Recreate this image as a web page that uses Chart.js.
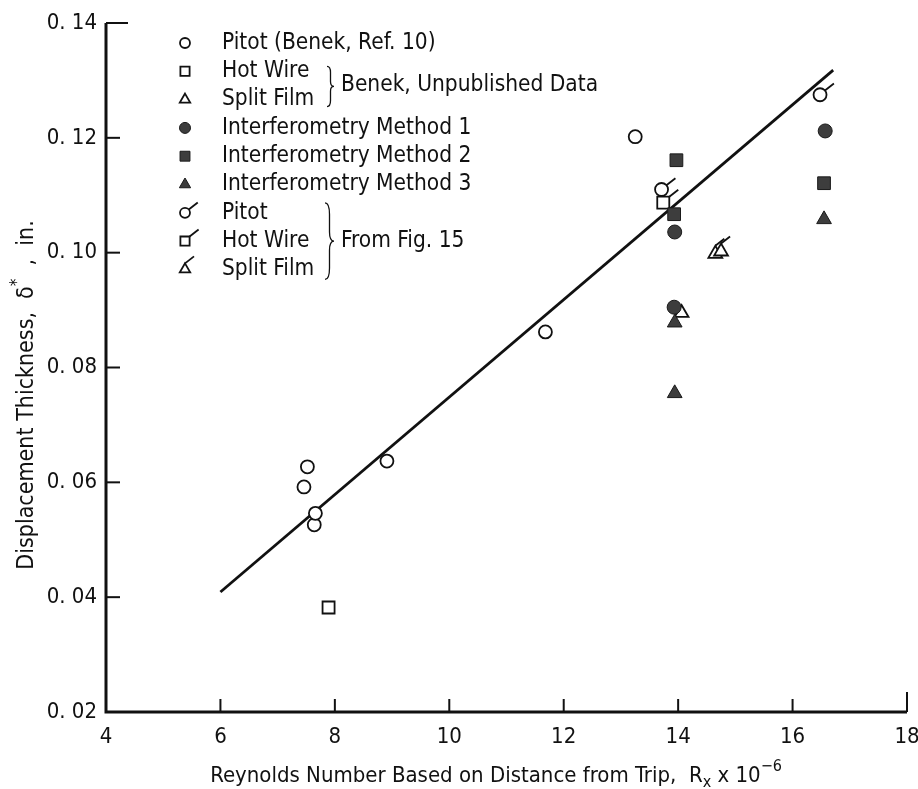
<!DOCTYPE html>
<html>
<head>
<meta charset="utf-8">
<script src="https://cdn.jsdelivr.net/npm/chart.js@4.4.1/dist/chart.umd.min.js"></script>
<style>
  html, body { margin: 0; padding: 0; background: #fff; }
  #wrap { width: 918px; height: 789px; position: relative; }
</style>
</head>
<body>
<div id="wrap"><canvas id="chart"></canvas></div>
<script>
const FONT = '"DejaVu Sans Condensed", "Liberation Sans Narrow", "Noto Sans", sans-serif';

const xTicks = [4, 6, 8, 10, 12, 14, 16, 18];
const yTicks = [0.02, 0.04, 0.06, 0.08, 0.10, 0.12, 0.14];

// Pitot (Benek, Ref. 10)
const pitotRefX = [7.46, 7.52, 7.64, 7.66, 8.91, 11.68, 13.25];
const pitotRefY = [0.0592, 0.0627, 0.0526, 0.0546, 0.0637, 0.0862, 0.1202];
// Benek, unpublished data
const hotWireX = [7.89];
const hotWireY = [0.0382];
const splitFilmX = [14.06];
const splitFilmY = [0.0895];
// interferometry
const interf1X = [13.94, 13.93, 16.57];
const interf1Y = [0.1036, 0.0905, 0.1212];
const interf2X = [13.97, 13.93, 16.55];
const interf2Y = [0.1161, 0.1067, 0.1121];
const interf3X = [13.94, 13.94, 16.55];
const interf3Y = [0.0878, 0.0755, 0.1058];
// from fig. 15 (flagged symbols)
const pitotFigX = [13.71, 16.48];
const pitotFigY = [0.1110, 0.1275];
const hotWireFigX = [13.74];
const hotWireFigY = [0.1087];
const splitFilmFigX = [14.65, 14.75];
const splitFilmFigY = [0.0998, 0.1002];
// fitted line
const fitX = [6.0, 16.71];
const fitY = [0.0409, 0.1318];

const legendLabels = ['Pitot (Benek, Ref. 10)', 'Hot Wire', 'Split Film', 'Interferometry Method 1',
    'Interferometry Method 2', 'Interferometry Method 3', 'Pitot', 'Hot Wire', 'Split Film'];
const braceLabels = ['Benek, Unpublished Data', 'From Fig. 15'];

function pts(xs, ys) {
    return xs.map((x, i) => ({ x: x, y: ys[i] }));
}

const OPEN = { backgroundColor: '#ffffff', borderColor: '#111111', borderWidth: 1.8 };
const FILLED = { backgroundColor: '#3d3d3d', borderColor: '#1a1a1a', borderWidth: 1 };

const datasets = [
    { label: legendLabels[0], data: pts(pitotRefX, pitotRefY), pointStyle: 'circle', pointRadius: 6.5, ...OPEN, order: 5 },
    { label: legendLabels[1], data: pts(hotWireX, hotWireY), pointStyle: 'rect', pointRadius: 8.5, ...OPEN, order: 5 },
    { label: legendLabels[2], data: pts(splitFilmX, splitFilmY), pointStyle: 'triangle', pointRadius: 8, ...OPEN, order: 5 },
    { label: legendLabels[3], data: pts(interf1X, interf1Y), pointStyle: 'circle', pointRadius: 7, ...FILLED, order: 1 },
    { label: legendLabels[4], data: pts(interf2X, interf2Y), pointStyle: 'rect', pointRadius: 9, ...FILLED, order: 1 },
    { label: legendLabels[5], data: pts(interf3X, interf3Y), pointStyle: 'triangle', pointRadius: 8.5, ...FILLED, order: 1 },
    { label: legendLabels[6], data: pts(pitotFigX, pitotFigY), pointStyle: 'circle', pointRadius: 6.5, ...OPEN, flag: true, order: 4 },
    { label: legendLabels[7], data: pts(hotWireFigX, hotWireFigY), pointStyle: 'rect', pointRadius: 8.5, ...OPEN, flag: true, order: 4 },
    { label: legendLabels[8], data: pts(splitFilmFigX, splitFilmFigY), pointStyle: 'triangle', pointRadius: 8, ...OPEN, flag: true, order: 4 },
    { label: 'fit', data: pts(fitX, fitY), showLine: true, borderColor: '#111111', borderWidth: 2.8, pointRadius: 0, order: 10 }
];

// the little tail drawn on the "From Fig. 15" symbols
function drawFlag(ctx, style, x, y, r) {
    let sx, sy;
    if (style === 'circle') {
        sx = x + r * 0.75; sy = y - r * 0.66;
    } else if (style === 'rect') {
        const h = r * Math.SQRT1_2;
        sx = x + h; sy = y - h;
    } else {
        sx = x; sy = y - r;
    }
    ctx.beginPath();
    ctx.moveTo(sx, sy);
    ctx.lineTo(sx + 9, sy - 7);
    ctx.stroke();
}

function drawBrace(ctx, x, yTop, yBot, w) {
    const h = yBot - yTop;
    const ym = (yTop + yBot) / 2;
    ctx.beginPath();
    ctx.moveTo(x, yTop);
    ctx.quadraticCurveTo(x + w * 0.5, yTop, x + w * 0.5, yTop + h * 0.15);
    ctx.lineTo(x + w * 0.5, ym - h * 0.12);
    ctx.quadraticCurveTo(x + w * 0.5, ym, x + w, ym);
    ctx.quadraticCurveTo(x + w * 0.5, ym, x + w * 0.5, ym + h * 0.12);
    ctx.lineTo(x + w * 0.5, yBot - h * 0.15);
    ctx.quadraticCurveTo(x + w * 0.5, yBot, x, yBot);
    ctx.stroke();
}

// runs of [text, size, yOffset]
function runsWidth(ctx, runs) {
    let w = 0;
    runs.forEach(r => { ctx.font = r[1] + 'px ' + FONT; w += ctx.measureText(r[0]).width; });
    return w;
}
function drawRuns(ctx, runs, x, y) {
    runs.forEach(r => {
        ctx.font = r[1] + 'px ' + FONT;
        ctx.fillText(r[0], x, y + r[2]);
        x += ctx.measureText(r[0]).width;
    });
}

const paperPlugin = {
    id: 'paper',
    beforeDatasetsDraw(chart) {
        const { ctx, chartArea: a, scales: { x, y } } = chart;
        ctx.save();
        ctx.strokeStyle = '#111';
        ctx.lineWidth = 3;
        ctx.beginPath();
        ctx.moveTo(a.left, a.top);
        ctx.lineTo(a.left, a.bottom);
        ctx.lineTo(a.right, a.bottom);
        ctx.stroke();
        ctx.lineWidth = 2;
        yTicks.forEach(v => {
            const py = y.getPixelForValue(v);
            const len = v === 0.14 ? 22 : 14;
            ctx.beginPath();
            ctx.moveTo(a.left, py);
            ctx.lineTo(a.left + len, py);
            ctx.stroke();
        });
        xTicks.forEach(v => {
            const px = x.getPixelForValue(v);
            const len = v === 18 ? 20 : 13;
            ctx.beginPath();
            ctx.moveTo(px, a.bottom);
            ctx.lineTo(px, a.bottom - len);
            ctx.stroke();
        });
        ctx.restore();
    },
    afterDatasetsDraw(chart) {
        const ctx = chart.ctx;
        ctx.save();
        ctx.strokeStyle = '#111';
        ctx.lineWidth = 1.8;
        chart.data.datasets.forEach((ds, i) => {
            if (!ds.flag) return;
            chart.getDatasetMeta(i).data.forEach(p => drawFlag(ctx, ds.pointStyle, p.x, p.y, ds.pointRadius));
        });
        ctx.restore();
    },
    afterDraw(chart) {
        const ctx = chart.ctx;
        ctx.save();
        ctx.fillStyle = '#111';
        ctx.strokeStyle = '#111';
        ctx.textBaseline = 'middle';

        // legend
        const symX = 185, textX = 222, y0 = 43, dy = 28.3;
        const legendSize = [5, 6.5, 6, 5.5, 7, 6.5, 5, 6.5, 6];
        chart.data.datasets.slice(0, 9).forEach((ds, i) => {
            const yy = y0 + i * dy;
            ctx.fillStyle = ds.backgroundColor;
            ctx.strokeStyle = ds.borderColor;
            ctx.lineWidth = ds.borderWidth;
            Chart.helpers.drawPoint(ctx, { pointStyle: ds.pointStyle, radius: legendSize[i], borderWidth: ds.borderWidth, rotation: 0 }, symX, yy);
            if (ds.flag) {
                ctx.lineWidth = 1.8;
                drawFlag(ctx, ds.pointStyle, symX, yy, legendSize[i]);
            }
            ctx.fillStyle = '#111';
            ctx.font = '22.5px ' + FONT;
            ctx.textAlign = 'left';
            ctx.fillText(ds.label, textX, yy);
        });
        ctx.lineWidth = 1.3;
        ctx.strokeStyle = '#111';
        drawBrace(ctx, 327, y0 + dy - 5, y0 + 2 * dy + 7, 7);
        ctx.fillText(braceLabels[0], 341, y0 + 1.5 * dy);
        drawBrace(ctx, 325, y0 + 6 * dy - 10, y0 + 8 * dy + 10, 9);
        ctx.fillText(braceLabels[1], 341, y0 + 7 * dy);

        // x title
        ctx.textAlign = 'left';
        ctx.textBaseline = 'alphabetic';
        const xRuns = [['Reynolds Number Based on Distance from Trip,  R', 22, 0], ['x', 16, 5], [' x 10', 22, 0], ['\u22126', 16, -11]];
        const xw = runsWidth(ctx, xRuns);
        drawRuns(ctx, xRuns, 496 - xw / 2, 782);

        // y title
        ctx.translate(33, 395);
        ctx.rotate(-Math.PI / 2);
        const yRuns = [['Displacement Thickness,  \u03b4', 23, 0], ['*', 17, -11], ['  ,  in.', 23, 0]];
        const yw = runsWidth(ctx, yRuns);
        drawRuns(ctx, yRuns, -yw / 2, 0);
        ctx.restore();
    }
};

new Chart(document.getElementById('chart'), {
    type: 'scatter',
    data: { datasets: datasets },
    options: {
        responsive: true,
        maintainAspectRatio: false,
        animation: false,
        events: [],
        layout: { padding: { top: 23, right: 11, left: 0, bottom: 0 } },
        plugins: { legend: { display: false }, tooltip: { enabled: false } },
        scales: {
            x: {
                type: 'linear',
                min: 4,
                max: 18,
                afterBuildTicks: s => { s.ticks = xTicks.map(v => ({ value: v })); },
                afterFit: s => { s.height = 77; s.paddingLeft = 0; s.paddingRight = 0; },
                grid: { display: false, drawTicks: false },
                border: { display: false },
                ticks: {
                    color: '#111',
                    padding: 12,
                    maxRotation: 0,
                    font: { family: FONT, size: 22 },
                    callback: v => String(v)
                }
            },
            y: {
                type: 'linear',
                min: 0.02,
                max: 0.14,
                afterBuildTicks: s => { s.ticks = yTicks.map(v => ({ value: v })); },
                afterFit: s => { s.width = 106; s.paddingTop = 0; s.paddingBottom = 0; },
                grid: { display: false, drawTicks: false },
                border: { display: false },
                ticks: {
                    color: '#111',
                    padding: 9,
                    font: { family: FONT, size: 22 },
                    callback: v => '0. ' + String(Math.round(v * 100)).padStart(2, '0')
                }
            }
        }
    },
    plugins: [paperPlugin]
});
</script>
</body>
</html>
